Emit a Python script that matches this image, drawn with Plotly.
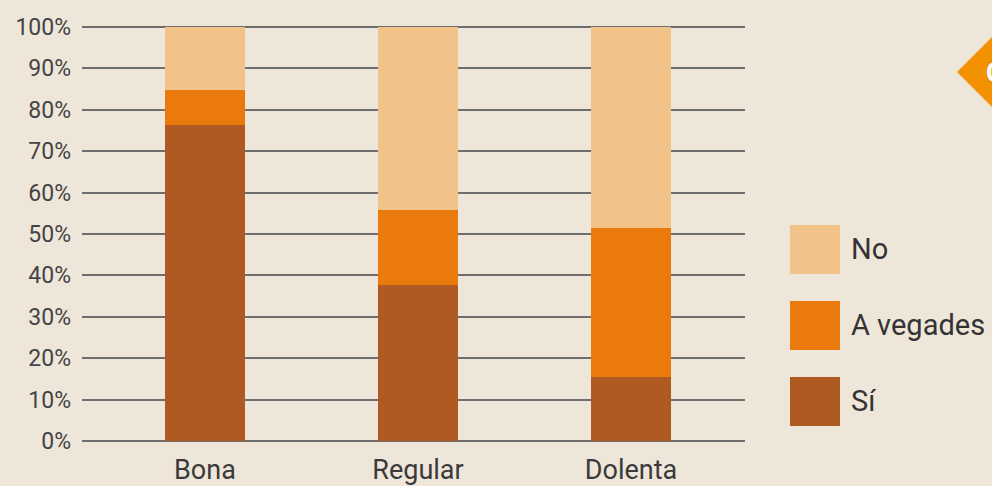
import plotly.graph_objects as go

# values (percent of each group)
categories = ["Bona", "Regular", "Dolenta"]
series_names = ["Sí", "A vegades", "No"]
si_vals = [76.3, 37.7, 15.5]
avegades_vals = [8.5, 18.1, 35.9]
no_vals = [15.2, 44.2, 48.6]
y_ticks = [0, 10, 20, 30, 40, 50, 60, 70, 80, 90, 100]
y_tick_labels = [f"{v}%" for v in y_ticks]

COLORS = {"Sí": "#AF5A22", "A vegades": "#E97A0B", "No": "#F2C388"}
BG = "#EFE6DA"
FONT = "Roboto, sans-serif"

W, H = 992, 486
L, R, T, B = 82, 247, 26, 44  # plot area 82..745 x 26..442 (0%..100% at 441..27)


def px_x(x):
    return (x - L) / (W - L - R)


def px_y(y):
    return (H - B - y) / (H - T - B)


fig = go.Figure()
for name, vals in zip(series_names, [si_vals, avegades_vals, no_vals]):
    fig.add_bar(x=list(range(len(categories))), y=vals, name=name,
                marker=dict(color=COLORS[name], line_width=0), width=0.376,
                showlegend=False, hoverinfo="skip")

# custom legend: big square swatches like the reference
legend_rows = [("No", 225), ("A vegades", 301), ("Sí", 377)]
for name, top in legend_rows:
    fig.add_shape(type="rect", xref="paper", yref="paper",
                  x0=px_x(790), x1=px_x(840), y0=px_y(top + 49), y1=px_y(top),
                  fillcolor=COLORS[name], line_width=0)
    fig.add_annotation(xref="paper", yref="paper", x=px_x(849), y=px_y(top + 24),
                       text=name, showarrow=False, xanchor="left", yanchor="middle",
                       font=dict(family=FONT, size=29, color="#333333"))

# cropped orange badge at the top right edge
fig.add_shape(type="path", xref="paper", yref="paper",
              path=f"M {px_x(957)} {px_y(72)} L {px_x(1000)} {px_y(29)} L {px_x(1043)} {px_y(72)} "
                   f"L {px_x(1000)} {px_y(115)} Z",
              fillcolor="#F39200", line_width=0)
fig.add_annotation(xref="paper", yref="paper", x=px_x(984), y=px_y(72), text="<b>C</b>",
                   showarrow=False, xanchor="left", yanchor="middle",
                   font=dict(family=FONT, size=28, color="white"))

fig.update_layout(
    barmode="stack", width=W, height=H,
    paper_bgcolor=BG, plot_bgcolor=BG,
    margin=dict(l=L, r=R, t=T, b=B, pad=0),
    font=dict(family=FONT, size=20, color="#333333"),
    xaxis=dict(tickmode="array", tickvals=list(range(len(categories))), ticktext=categories,
               range=[-0.577, 2.535], showgrid=False, zeroline=False, showline=False,
               ticks="", ticklabelstandoff=9, automargin=False,
               tickfont=dict(size=27, color="#3a3a3a")),
    yaxis=dict(tickmode="array", tickvals=y_ticks, ticktext=y_tick_labels, range=[-0.25, 100.25],
               showgrid=True, gridcolor="#6e6e6e", gridwidth=2, zeroline=False,
               showline=False, ticks="", ticklabelstandoff=10, automargin=False,
               tickfont=dict(size=23, color="#444444")),
)

# drop the page's default body margin so the chart sits flush like the reference
fig.write_html("out.html", config={"displayModeBar": False},
               post_script="document.body.style.margin='0';")
